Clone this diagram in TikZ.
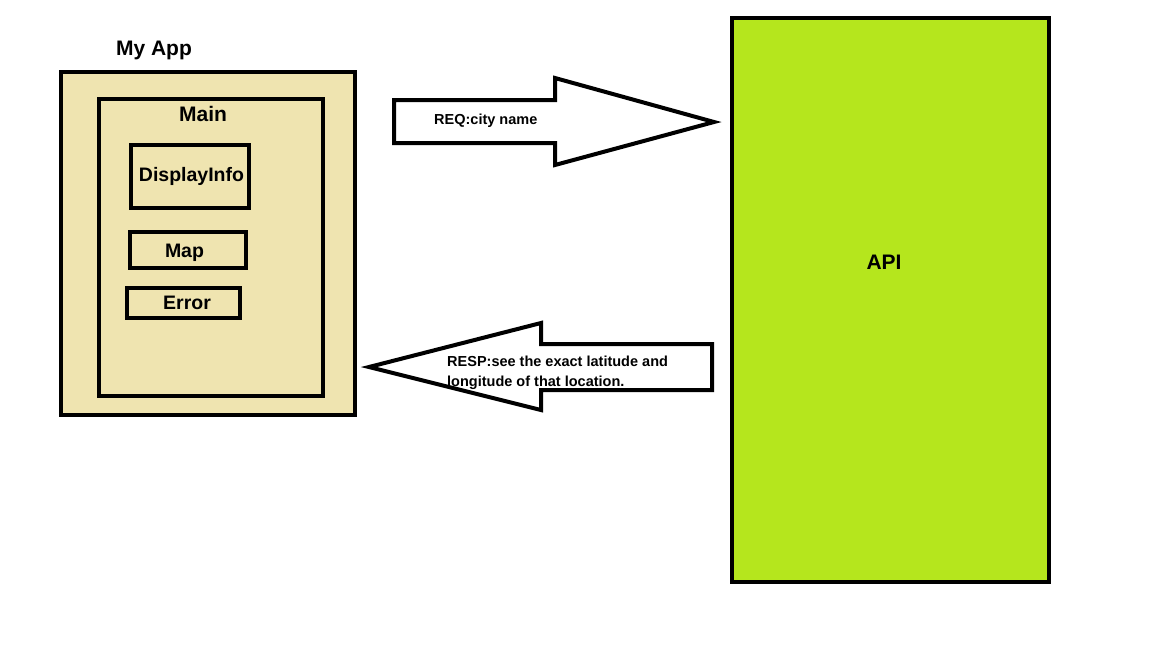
\documentclass[tikz,border=0pt]{standalone}
\usepackage{fontspec}
\setmainfont{Liberation Sans}
\definecolor{tan}{HTML}{EFE4B0}
\definecolor{lime}{HTML}{B5E61D}
\begin{document}
\begin{tikzpicture}[x=1pt,y=-1pt,
  box/.style={draw=black,line width=4pt,rectangle,inner sep=0pt,outer sep=0pt,font=\bfseries\fontsize{19.5}{22}\selectfont},
  blockarrow/.style={draw=black,line width=4pt,fill=white,line join=miter},
  lbl/.style={inner sep=0pt,font=\bfseries\fontsize{21}{24}\selectfont},
  small/.style={inner sep=0pt,anchor=west,align=left,font=\bfseries\fontsize{14.5}{20}\selectfont}]
\useasboundingbox[fill=white] (0,0) rectangle (1152,648);
% My App
\node[box,fill=tan,minimum width=294pt,minimum height=343pt] (app) at (208,243.5) {};
\node[lbl] (applbl) at (154,50) {My App};
\node[box,fill=tan,minimum width=224pt,minimum height=297pt] (main) at (211,247.5) {};
\node[lbl] (mainlbl) at (203,114) {Main};
\node[box,minimum width=118pt,minimum height=63pt] (disp) at (190,176.5) {\hspace{3pt}DisplayInfo};
\node[box,minimum width=116pt,minimum height=36pt,
  label={[inner sep=0pt,font=\bfseries\fontsize{19.5}{22}\selectfont,xshift=-3.5pt,yshift=-2.5pt]center:Map}] (map) at (188,250) {};
\node[box,minimum width=113pt,minimum height=30pt] (err) at (183.5,303) {\hspace{7pt}Error};
% API
\node[box,fill=lime,minimum width=317pt,minimum height=564pt] (api) at (890.5,300) {};
\node[lbl] (apilbl) at (884,262) {API};
% request arrow
\draw[blockarrow] (394,100) -- (555,100) -- (555,78) -- (714,122) -- (555,165) -- (555,143) -- (394,143) -- cycle;
\node[small] (req) at (434,121) {REQ:city name};
% response arrow
\draw[blockarrow] (712,344) -- (541,344) -- (541,323) -- (369,367) -- (541,410) -- (541,390) -- (712,390) -- cycle;
\node[small] (resp) at (447,373) {RESP:see the exact latitude and\\longitude of that location.};
\end{tikzpicture}
\end{document}
